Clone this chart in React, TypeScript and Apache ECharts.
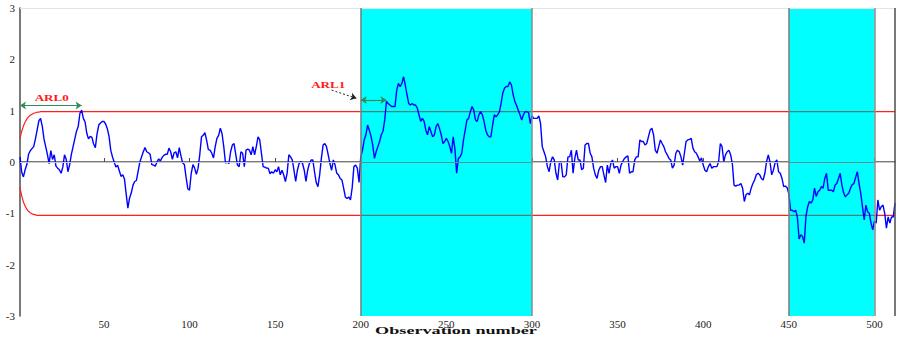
import React, { useEffect, useRef } from "react";
import * as echarts from "echarts";

// EWMA statistic, observations 1..512
const ewmaA = [
  0.10, -0.20, -0.29, -0.15, -0.05, 0.15, 0.22, 0.26, 0.30, 0.45,
  0.62, 0.80, 0.85, 0.70, 0.45, 0.30, 0.15, -0.03, 0.22, 0.05,
  0.14, -0.08, -0.12, -0.15, -0.22, -0.10, 0.14, 0.05, -0.19, -0.05,
  0.15, 0.30, 0.45, 0.60, 0.69, 0.95, 1.01, 0.85, 0.78, 0.56,
  0.45, 0.50, 0.48, 0.35, 0.28, 0.55, 0.72, 0.76, 0.79, 0.79,
  0.74, 0.65, 0.50, 0.23, 0.10, 0.00, -0.10, -0.06,
];
const ewmaB = [
  -0.17, -0.28, -0.25, -0.33, -0.62, -0.90, -0.70, -0.60, -0.45, -0.38,
  -0.36, -0.18, 0.00, 0.10, 0.20, 0.28, 0.20, 0.18, 0.15, -0.05,
  -0.06, -0.08, 0.00, 0.06, 0.02, 0.09, 0.13, 0.15, 0.15, 0.27,
  0.20, 0.05, 0.18, 0.20, 0.08, 0.28, 0.12, -0.02, -0.05, -0.30,
  -0.52, -0.55, -0.22, -0.05, -0.12, -0.24, -0.12, 0.15, 0.49, 0.52,
  0.57, 0.42, 0.24, 0.23, 0.17, 0.08, 0.30, 0.46, 0.52, 0.66,
  0.55, 0.30, -0.02, 0.00,
];
const ewmaC = [
  -0.03, 0.20, 0.33, 0.36, 0.15, -0.06, -0.09, 0.20, 0.17, -0.09,
  0.23, 0.25, 0.23, 0.14, 0.30, 0.14, 0.30, 0.49, 0.43, 0.17,
  -0.09, -0.10, -0.12, -0.12, -0.23, -0.19, -0.22, -0.15, -0.19, -0.09,
  -0.25, -0.16, -0.25, -0.38, -0.22, 0.14, 0.10, 0.04, -0.16, -0.38,
  -0.16, -0.03, 0.01, -0.03, -0.16, -0.38, -0.16, -0.03, 0.04, 0.04,
  -0.19, -0.40, -0.48, -0.25, 0.07, 0.33, 0.36, 0.30, 0.14, -0.03,
  -0.16, 0.04, -0.06, -0.22,
];
const ewmaD = [
  -0.25, -0.32, -0.35, -0.51, -0.68, -0.71, -0.68, -0.74, -0.50, -0.09,
  -0.06, -0.12, -0.40, 0.10, 0.23, 0.43, 0.53, 0.72, 0.62, 0.50,
  0.33, 0.07, 0.20, 0.30, 0.40, 0.53, 0.60, 0.82, 1.18, 1.14,
  1.11, 1.08, 1.08, 1.08, 1.40, 1.53, 1.47, 1.53, 1.66, 1.50,
  1.31, 1.14, 1.11, 1.14, 1.11, 1.11, 1.05, 0.92, 0.79, 0.85,
  0.79, 0.62, 0.53, 0.69, 0.59, 0.49, 0.53, 0.69, 0.75, 0.65,
  0.53, 0.36, 0.40, 0.46, 0.40,
];
const ewmaE = [
  0.30, 0.17, 0.49, 0.25, -0.22, 0.07, 0.10, 0.17, 0.43, 0.62,
  0.82, 0.85, 0.98, 1.08, 1.01, 0.82, 0.79, 0.92, 0.98, 0.92,
  0.79, 0.62, 0.53, 0.49, 0.49, 0.72, 0.92, 0.88, 0.92, 0.98,
  1.15, 1.35, 1.44, 1.47, 1.47, 1.56, 1.50, 1.31, 1.18, 1.10,
  1.01, 0.92, 0.82, 0.92, 0.98, 0.98, 0.96, 0.75, 0.90, 0.85,
  0.85, 0.85, 0.90, 0.75, 0.30, 0.20, 0.10, -0.09, -0.19, 0.01,
  0.10, 0.04, -0.22, -0.35, -0.01,
];
const ewmaF = [
  0.00, -0.29, -0.29, -0.25, 0.10, 0.10, 0.23, -0.22, 0.07, 0.23,
  0.04, 0.04, -0.15, -0.12, 0.33, 0.36, 0.36, 0.17, 0.10, -0.12,
  -0.25, -0.32, -0.16, -0.09, -0.09, -0.25, -0.40, -0.06, -0.22, -0.03,
  0.04, -0.12, -0.09, -0.09, -0.22, -0.06, 0.01, 0.07, 0.10, 0.12,
  -0.22, -0.19, -0.19, 0.04, 0.10, 0.10, 0.43, 0.40, 0.40, 0.33,
  0.36, 0.49, 0.62, 0.66, 0.53, 0.23, 0.17, 0.30, 0.43, 0.36,
  0.30, 0.20, 0.14,
];
const ewmaG = [
  0.07, 0.04, -0.12, -0.06, 0.17, 0.23, 0.20, 0.10, -0.06, 0.17,
  0.40, 0.43, 0.44, 0.46, 0.27, 0.20, 0.17, 0.10, 0.02, 0.08,
  -0.06, -0.16, -0.19, -0.09, -0.03, -0.12, -0.09, -0.09, -0.09, 0.01,
  0.36, 0.30, 0.01, 0.14, 0.20, 0.23, 0.14, -0.03, -0.45, -0.47,
  -0.45, -0.45, -0.42, -0.51, -0.77, -0.64, -0.61, -0.64, -0.51, -0.42,
  -0.35, -0.25, -0.22, -0.25, -0.32, -0.35, -0.22, 0.01, 0.14, 0.00,
  -0.25, -0.16, -0.01, 0.04,
];
const ewmaH = [
  -0.19, -0.22, -0.32, -0.48, -0.47, -0.50, -0.62, -0.94, -0.94, -0.97,
  -0.94, -1.08, -1.50, -1.42, -1.45, -1.58, -1.06, -0.87, -0.77, -0.80,
  -0.74, -0.51, -0.67, -0.58, -0.55, -0.48, -0.51, -0.32, -0.22, -0.55,
  -0.55, -0.55, -0.58, -0.45, -0.42, -0.32, -0.22, -0.45, -0.60, -0.68,
  -0.64, -0.61, -0.51, -0.44, -0.42, -0.30, -0.19, -0.42, -0.61, -0.87,
  -1.13, -0.84, -0.97, -1.00, -1.19, -1.32, -1.15, -1.19, -0.74, -0.94,
  -0.87, -0.84, -1.00, -1.29, -1.07, -1.19, -1.07, -1.07, -0.80,
];
const ewma = [...ewmaA, ...ewmaB, ...ewmaC, ...ewmaD, ...ewmaE, ...ewmaF, ...ewmaG, ...ewmaH];

// Control limits: warm-up values, then the steady-state limit
const uclStart = [0.46, 0.6, 0.7, 0.78, 0.84, 0.88, 0.91, 0.93, 0.95, 0.96, 0.97, 0.97];
const uclSteady = 0.98;
const lclStart = [-0.5, -0.66, -0.78, -0.86, -0.92, -0.96, -0.99, -1.01, -1.02, -1.03];
const lclSteady = -1.04;

// Out-of-control segments
const shiftRanges: [number, number][] = [
  [200, 300],
  [450, 500],
];

const xTickValues = [50, 100, 150, 200, 250, 300, 350, 400, 450, 500];
const xMin = 1;
const xMax = 512;
const yMin = -3;
const yMax = 3;

// Run-length annotations
const arl0Run = { from: 1, to: 37, level: 1.1 };
const arl1Run = { from: 200, to: 215, level: 1.21 };
const arl1Pointer = { from: [183, 1.4], to: [197.5, 1.24] };
const arl0Label = { text: "ARL0", x: 19.5, y: 1.25 };
const arl1Label = { text: "ARL1", x: 181, y: 1.51 };

const SERIF = "Liberation Serif";

export default function App() {
  const ref = useRef<HTMLDivElement>(null);

  useEffect(() => {
    document.body.style.margin = "0";
    if (!ref.current) return;
    const chart = echarts.init(ref.current, null, { renderer: "svg" });

    const obs = ewma.map((_, i) => i + 1);
    const ucl = obs.map((_, i) => (i < uclStart.length ? uclStart[i] : uclSteady));
    const lcl = obs.map((_, i) => (i < lclStart.length ? lclStart[i] : lclSteady));
    const inside = (x: number) => shiftRanges.some(([a, b]) => x >= a && x <= b);
    const strictlyInside = (x: number) => shiftRanges.some(([a, b]) => x > a && x < b);

    const outsidePart = (vals: number[]) =>
      obs.map((x, i) => (strictlyInside(x) ? [x, null] : [x, vals[i]]));
    const insidePart = (vals: number[]) =>
      obs.map((x, i) => (inside(x) ? [x, vals[i]] : [x, null]));

    const limitLine = (name: string, data: any[], color: string) => ({
      name,
      type: "line",
      data,
      z: 3,
      symbol: "none",
      silent: true,
      connectNulls: false,
      lineStyle: { color, width: 1.2 },
    });

    const option: any = {
      animation: false,
      grid: { left: 20, right: 3, top: 8, bottom: 23 },
      xAxis: {
        type: "value",
        min: xMin,
        max: xMax,
        axisLine: { show: true, lineStyle: { color: "#4d4d4d", width: 1.5 } },
        axisTick: {
          show: true,
          inside: true,
          length: 4,
          customValues: xTickValues,
          lineStyle: { color: "#4d4d4d" },
        },
        axisLabel: {
          customValues: xTickValues,
          fontFamily: SERIF,
          fontSize: 11,
          color: "#222",
          margin: 2,
        },
        splitLine: { show: false },
      },
      yAxis: {
        type: "value",
        min: yMin,
        max: yMax,
        interval: 1,
        axisLine: { show: true, lineStyle: { color: "#4d4d4d", width: 1.5 } },
        axisTick: { show: false },
        axisLabel: { fontFamily: SERIF, fontSize: 11, color: "#222", margin: 5 },
        splitLine: { show: false },
      },
      series: [
        {
          name: "shift",
          type: "line",
          data: [],
          z: 1,
          silent: true,
          markArea: {
            silent: true,
            itemStyle: { color: "#00ffff", opacity: 1 },
            data: shiftRanges.map(([a, b]) => [{ xAxis: a }, { xAxis: b }]),
          },
        },
        {
          name: "frame",
          type: "line",
          data: [],
          z: 2,
          silent: true,
          markLine: {
            silent: true,
            symbol: "none",
            label: { show: false },
            data: [
              { yAxis: 0, lineStyle: { color: "#c8c8c8", width: 1, type: "solid" } },
              { yAxis: yMax, lineStyle: { color: "#e4e4e4", width: 1, type: "solid" } },
              { xAxis: xMax, lineStyle: { color: "#4d4d4d", width: 1.5, type: "solid" } },
              ...shiftRanges.map(([a, b]) => [
                { coord: [a, 0], lineStyle: { color: "#5f8f8f", width: 1, type: "solid" } },
                { coord: [b, 0] },
              ]),
              ...shiftRanges.flatMap(([a, b]) => [
                { xAxis: a, lineStyle: { color: "#7d7d7d", width: 1.5, type: "solid" } },
                { xAxis: b, lineStyle: { color: "#8a8a8a", width: 1.5, type: "solid" } },
              ]),
            ],
          },
        },
        limitLine("UCL", outsidePart(ucl), "#ff1f1f"),
        limitLine("UCL shift", insidePart(ucl), "#557a7a"),
        limitLine("LCL", outsidePart(lcl), "#ff1f1f"),
        limitLine("LCL shift", insidePart(lcl), "#557a7a"),
        {
          name: "EWMA",
          type: "line",
          data: obs.map((x, i) => [x, ewma[i]]),
          z: 4,
          symbol: "none",
          silent: true,
          lineStyle: { color: "#0000ff", width: 1.4 },
        },
        {
          name: "run lengths",
          type: "line",
          data: [],
          z: 5,
          silent: true,
          markLine: {
            silent: true,
            label: { show: false },
            data: [
              [
                {
                  coord: [arl0Run.from, arl0Run.level],
                  symbol: "arrow",
                  symbolSize: 6,
                  lineStyle: { color: "#2e8b57", width: 1.2, type: "solid" },
                },
                { coord: [arl0Run.to, arl0Run.level], symbol: "arrow", symbolSize: 6 },
              ],
              [
                {
                  coord: [arl1Run.from, arl1Run.level],
                  symbol: "arrow",
                  symbolSize: 6,
                  lineStyle: { color: "#2e8b57", width: 1.2, type: "solid" },
                },
                { coord: [arl1Run.to, arl1Run.level], symbol: "arrow", symbolSize: 6 },
              ],
              [
                {
                  coord: arl1Pointer.from,
                  symbol: "none",
                  lineStyle: { color: "#222", width: 1, type: [2, 2] },
                },
                { coord: arl1Pointer.to, symbol: "arrow", symbolSize: 6 },
              ],
            ],
          },
        },
      ],
    };

    chart.setOption(option);

    const labelGraphic = [arl0Label, arl1Label].map((l) => {
      const [px, py] = chart.convertToPixel({ gridIndex: 0 }, [l.x, l.y]) as number[];
      return {
        type: "text",
        x: px,
        y: py,
        scaleX: 1.45,
        z: 10,
        style: {
          text: l.text,
          fill: "#ff1a1a",
          font: `bold 9px ${SERIF}`,
          align: "center",
          verticalAlign: "middle",
        },
      };
    });

    chart.setOption({
      graphic: [
        ...labelGraphic,
        {
          type: "text",
          x: 456,
          y: 330,
          scaleX: 1.65,
          style: {
            text: "Observation number",
            fill: "#111",
            font: `bold 11px ${SERIF}`,
            align: "center",
            verticalAlign: "middle",
          },
        },
      ],
    });

    return () => chart.dispose();
  }, []);

  return <div ref={ref} style={{ width: 898, height: 339 }} />;
}
